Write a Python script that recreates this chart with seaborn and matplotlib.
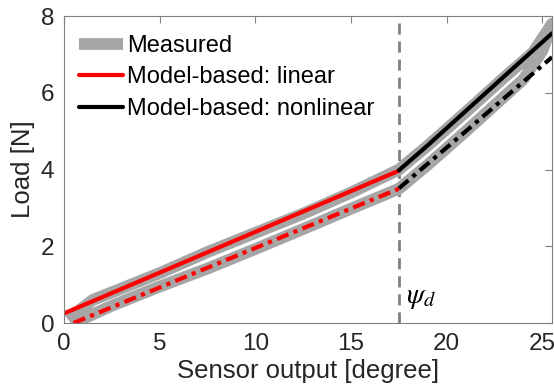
import numpy as np
import pandas as pd
import matplotlib
matplotlib.use("Agg")
import matplotlib.pyplot as plt
import seaborn as sns

# Measured hysteresis loop (loading then unloading)
meas_x = [0.2, 1.5, 3, 5, 7.5, 10, 12.5, 15, 17.5, 19, 21, 23, 24.5, 25.5,
          25.0, 24.0, 23.0, 21.0, 19.0, 17.5, 15.0, 12.5, 10.0, 7.5, 5.0, 2.5, 0.5]
meas_y = [0.1, 0.6, 0.9, 1.3, 1.85, 2.35, 2.85, 3.4, 4.0, 4.62, 5.5, 6.4, 7.05, 7.8,
          7.1, 6.35, 5.9, 5.0, 4.12, 3.5, 2.98, 2.45, 1.93, 1.42, 0.95, 0.45, 0.0]

# Model-based: linear (below psi_d)
lin_up_x = [0.0, 17.5]
lin_up_y = [0.25, 3.97]
lin_dn_x = [0.5, 17.5]
lin_dn_y = [0.0, 3.5]

# Model-based: nonlinear (above psi_d)
nl_up_x = [17.5, 19, 21, 23, 25.5]
nl_up_y = [3.98, 4.63, 5.53, 6.43, 7.55]
nl_dn_x = [17.5, 19, 21, 23, 25.5]
nl_dn_y = [3.51, 4.15, 5.0, 5.86, 6.93]

psi_d = 17.5

sns.set_style("white")
plt.rcParams['font.family'] = ['Liberation Sans', 'DejaVu Sans']
plt.rcParams['mathtext.fontset'] = 'stix'

fig = plt.figure(figsize=(5.54, 3.92), dpi=100)
ax = fig.add_axes([0.1155, 0.176, 0.881, 0.783])

gray = '#a6a6a6'
dd = (0, (3, 1.3, 1, 1.3))

meas = pd.DataFrame({'x': meas_x, 'y': meas_y})
sns.lineplot(data=meas, x='x', y='y', sort=False, estimator=None, ax=ax,
             color=gray, lw=8.5, label='Measured', solid_capstyle='butt')

ax.axvline(psi_d, color='#808080', lw=2, ls=(0, (4, 2.5)), zorder=1)

sns.lineplot(x=lin_up_x, y=lin_up_y, ax=ax, color='#ff0000', lw=3,
             label='Model-based: linear')
sns.lineplot(x=lin_dn_x, y=lin_dn_y, ax=ax, color='#ff0000', lw=3, ls=dd)
sns.lineplot(x=nl_up_x, y=nl_up_y, ax=ax, color='black', lw=3,
             label='Model-based: nonlinear')
sns.lineplot(x=nl_dn_x, y=nl_dn_y, ax=ax, color='black', lw=3, ls=dd)

ax.text(17.85, 0.68, r'$\psi_d$', fontsize=21, va='center', ha='left', color='black')

ax.set_xlim(0, 25.5)
ax.set_ylim(0, 8)
ax.set_xticks([0, 5, 10, 15, 20, 25])
ax.set_yticks([0, 2, 4, 6, 8])
ax.set_xlabel('Sensor output [degree]', fontsize=18.5, color='#262626', labelpad=3)
ax.set_ylabel('Load [N]', fontsize=18.5, color='#262626', labelpad=4)
ax.tick_params(direction='in', length=5, width=0.8, color='#808080',
               labelsize=17.5, labelcolor='#262626', top=True, right=True,
               labeltop=False, labelright=False, pad=7)
for s in ax.spines.values():
    s.set_color('#808080')
    s.set_linewidth(0.8)

leg = ax.legend(loc='center left', frameon=False, fontsize=17,
                handlelength=1.9, handletextpad=0.15, labelspacing=0.4,
                borderaxespad=0.0, borderpad=0.0, bbox_to_anchor=(0.03, 0.8))
for t in leg.get_texts():
    t.set_color('black')

fig.savefig('out.png', dpi=100)
